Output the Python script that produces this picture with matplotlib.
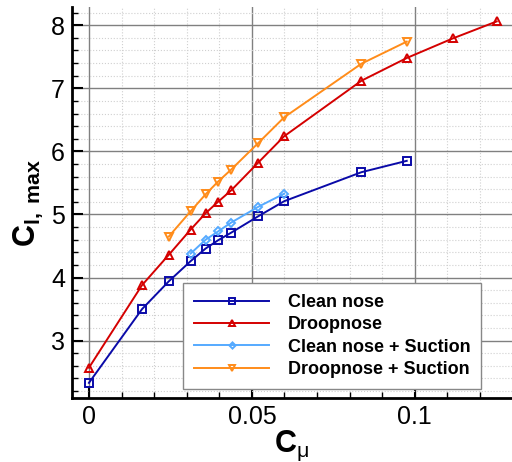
import matplotlib
matplotlib.use('Agg')
import matplotlib.pyplot as plt
from matplotlib.ticker import MultipleLocator

plt.rcParams['font.family'] = ['Liberation Sans', 'DejaVu Sans']
plt.rcParams['mathtext.fontset'] = 'custom'
plt.rcParams['mathtext.rm'] = 'Liberation Sans'
plt.rcParams['mathtext.it'] = 'Liberation Sans'
plt.rcParams['mathtext.bf'] = 'Liberation Sans:bold'

# data
cmu_clean = [0.0, 0.0163, 0.0245, 0.0312, 0.0358, 0.0396, 0.0436, 0.0519, 0.0599, 0.0836, 0.0975]
cl_clean = [2.33, 3.50, 3.94, 4.26, 4.46, 4.59, 4.71, 4.97, 5.21, 5.67, 5.85]

cmu_droop = [0.0, 0.0163, 0.0245, 0.0312, 0.0358, 0.0396, 0.0436, 0.0519, 0.0599, 0.0836, 0.0975, 0.1116, 0.1251]
cl_droop = [2.57, 3.88, 4.36, 4.76, 5.02, 5.20, 5.38, 5.82, 6.24, 7.12, 7.48, 7.79, 8.06]

cmu_clean_suc = [0.0312, 0.0358, 0.0396, 0.0436, 0.0519, 0.0599]
cl_clean_suc = [4.38, 4.60, 4.73, 4.87, 5.12, 5.33]

cmu_droop_suc = [0.0245, 0.0312, 0.0358, 0.0396, 0.0436, 0.0519, 0.0599, 0.0836, 0.0975]
cl_droop_suc = [4.65, 5.05, 5.32, 5.52, 5.71, 6.13, 6.54, 7.39, 7.74]

fig = plt.figure(figsize=(5.12, 4.62), dpi=100)
ax = fig.add_axes([0.1406, 0.1385, 0.8594, 0.8465])

ax.plot(cmu_clean, cl_clean, '-s', color='#0a0aa8', mfc='none', ms=5.5, mew=1.4, lw=1.4, label='Clean nose')
ax.plot(cmu_droop, cl_droop, '-^', color='#d40000', mfc='none', ms=6, mew=1.4, lw=1.4, label='Droopnose')
ax.plot(cmu_clean_suc, cl_clean_suc, '-D', color='#55aaff', mfc='none', ms=4.5, mew=1.4, lw=1.4, label='Clean nose + Suction')
ax.plot(cmu_droop_suc, cl_droop_suc, '-v', color='#ff8c1a', mfc='none', ms=6, mew=1.4, lw=1.4, label='Droopnose + Suction')

ax.set_xlim(-0.0052, 0.1298)
ax.set_ylim(2.09, 8.29)

ax.xaxis.set_major_locator(MultipleLocator(0.05))
ax.xaxis.set_minor_locator(MultipleLocator(0.01))
ax.yaxis.set_major_locator(MultipleLocator(1))
ax.yaxis.set_minor_locator(MultipleLocator(0.2))
ax.xaxis.set_major_formatter(plt.FuncFormatter(lambda v, p: '%g' % round(v, 3)))

ax.grid(which='major', color='#808080', lw=1.0, ls='-')
ax.grid(which='minor', color='#d0d0d0', lw=0.8, ls=':')
ax.set_axisbelow(True)

ax.spines['right'].set_color('none')
ax.spines['top'].set_color('none')
ax.spines['left'].set_linewidth(2)
ax.spines['bottom'].set_linewidth(2)
ax.tick_params(which='major', direction='in', length=8, width=1.5, labelsize=18, pad=5)
ax.tick_params(which='minor', direction='in', length=4, width=1)

ax.set_xlabel(r'$\mathbf{C}_{\mu}$', fontsize=22, labelpad=0)
ax.set_ylabel(r'$\mathbf{C}_{\mathbf{l,\ max}}$', fontsize=22, labelpad=4)

leg = ax.legend(loc='lower right', bbox_to_anchor=(0.95, 0.0), prop={'weight': 'bold', 'size': 13},
                fancybox=False, framealpha=1, edgecolor='#888888', handlelength=4.2,
                labelspacing=0.3, borderpad=0.6, handletextpad=1.0, markerscale=0.7)
leg.get_frame().set_linewidth(1)

fig.savefig('out.png', dpi=100)
